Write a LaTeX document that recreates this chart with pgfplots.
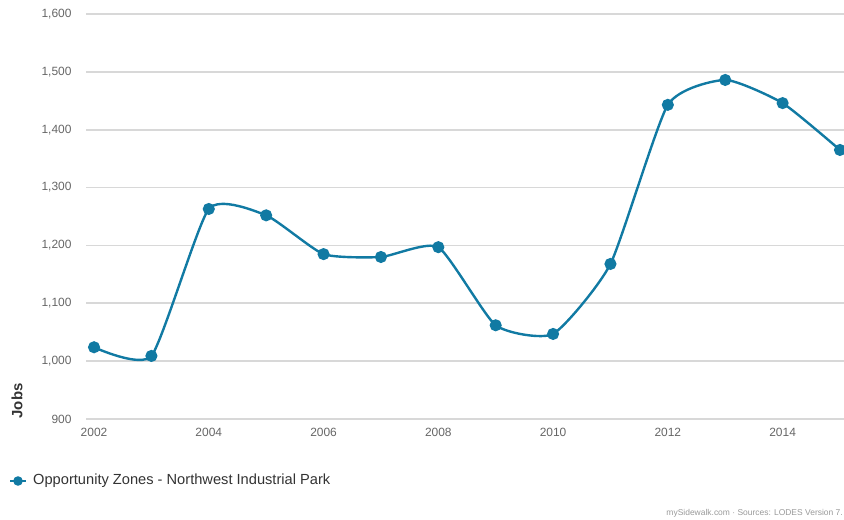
\documentclass[border=0pt]{standalone}
\usepackage{pgfplots}
\pgfplotsset{compat=1.18}
\usepackage{fontspec}
\setmainfont{Liberation Sans}
\definecolor{series}{RGB}{17,122,163}
\definecolor{gridc}{RGB}{216,216,216}
\definecolor{ticktext}{RGB}{102,102,102}
\definecolor{darktext}{RGB}{51,51,51}
\definecolor{credit}{RGB}{153,153,153}
\begin{document}
\begin{tikzpicture}
\path[use as bounding box] (0,0) rectangle (844bp,520bp);
\begin{axis}[
  at={(86bp,101bp)}, anchor=south west,
  scale only axis, width=758bp, height=405bp,
  xmin=2001.86, xmax=2015.07,
  ymin=900, ymax=1600,
  axis line style={draw=none},
  major tick length=0pt,
  ytick={900,1000,...,1600},
  xtick={2002,2004,...,2014},
  ymajorgrids, grid style={gridc, line width=1.8bp},
  /pgf/number format/assume math mode=true,
  /pgf/number format/1000 sep={,},
  xticklabel style={/pgf/number format/1000 sep={}, font=\fontsize{12}{14}\selectfont, text=ticktext, yshift=-6bp},
  yticklabel style={font=\fontsize{12}{14}\selectfont, text=ticktext, xshift=-11bp},
  clip=false,
]
\addplot[series, line width=2.4bp, smooth, tension=0.33, mark=*, mark size=4.8bp, mark options={fill=series, draw=none}]
coordinates {
(2002,1024) (2003,1009) (2004,1263) (2005,1252) (2006,1185) (2007,1180) (2008,1197)
(2009,1062) (2010,1047) (2011,1168) (2012,1443) (2013,1486) (2014,1446) (2015,1365)
};
\end{axis}
\node[rotate=90, font=\bfseries\fontsize{15}{17}\selectfont, text=darktext] at (17bp,119bp) {Jobs};
\draw[series, line width=2.4bp] (10bp,39bp) -- (26bp,39bp);
\fill[series] (18bp,39bp) circle (4.8bp);
\node[anchor=west, font=\fontsize{14.7}{17}\selectfont, text=darktext, inner sep=0pt] at (33bp,39bp) {Opportunity Zones - Northwest Industrial Park};
\node[anchor=east, font=\fontsize{8.5}{10}\selectfont, text=credit, inner sep=0pt] at (843bp,7bp) {mySidewalk.com · Sources: LODES Version 7.};
\end{tikzpicture}
\end{document}
